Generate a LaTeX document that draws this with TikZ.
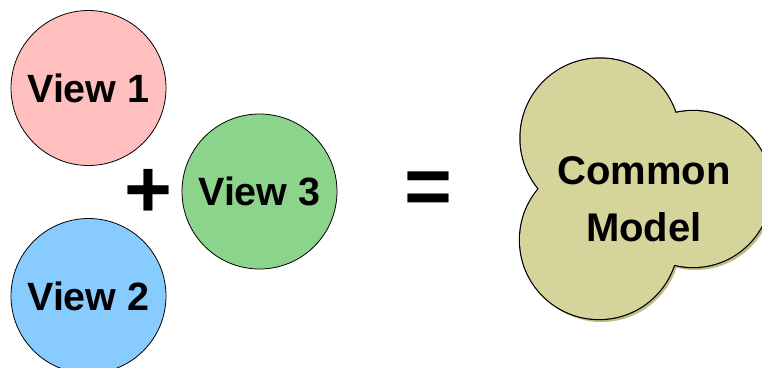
\documentclass[tikz,border=0pt]{standalone}
\usepackage{fontspec}
\setmainfont{Liberation Sans}
\definecolor{viewone}{HTML}{FFBFBF}
\definecolor{viewtwo}{HTML}{88CCFF}
\definecolor{viewthree}{HTML}{8CD48C}
\definecolor{modelfill}{HTML}{D5D49B}
\definecolor{modelshade}{HTML}{BDBB85}
\begin{document}
\begin{tikzpicture}[x=1pt,y=-1pt,
  view/.style={circle,draw=black,line width=0.8pt,minimum size=155pt,inner sep=0pt,
    font=\bfseries\fontsize{39.5}{44}\selectfont},
  op/.style={font=\bfseries\fontsize{82}{90}\selectfont,inner sep=0pt},
  modeltext/.style={font=\bfseries\fontsize{40}{57}\selectfont,inner sep=0pt,align=center}]
\useasboundingbox (0,0) rectangle (762,367);
\clip (0,0) rectangle (762,367);

% the three views
\node[view,fill=viewone]   (v1) at (88.5,88)    {View 1};
\node[view,fill=viewtwo]   (v2) at (88.5,296)   {View 2};
\node[view,fill=viewthree] (v3) at (259.5,191.5) {View 3};

% operators
\node[op] (plus)  at (148.5,193) {+};
\node[op] (equal) at (428,193.5) {=};

% the common model: union of three lobes with a soft drop shadow
\def\lobes{(600,138) circle[radius=79.5] (599,240) circle[radius=79] (693,189) circle[radius=78]}
\begin{scope}[shift={(2.5,3)}]
  \fill[modelshade] \lobes;
\end{scope}
\draw[line width=2.4pt] \lobes;
\fill[modelfill] \lobes;
\node[modeltext] (model) at (644,199.5) {Common\\Model};
\end{tikzpicture}
\end{document}
